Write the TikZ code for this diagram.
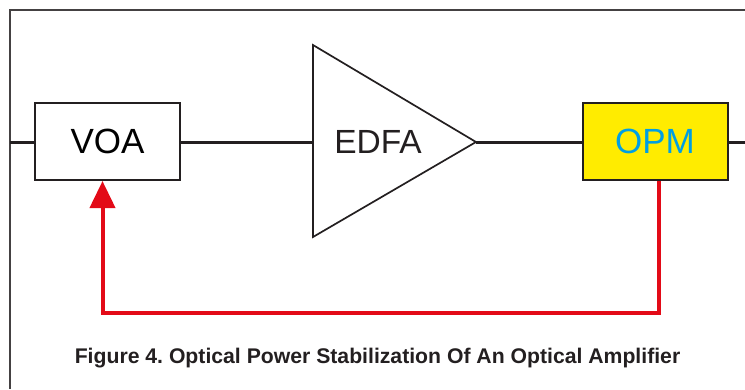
\documentclass[tikz,border=0pt]{standalone}
\usepackage{fontspec}
\setmainfont{Liberation Sans}
\usetikzlibrary{arrows.meta}
\definecolor{fbred}{HTML}{E30A17}
\definecolor{opmyellow}{HTML}{FFEC00}
\definecolor{opmblue}{HTML}{009FE3}
\definecolor{ink}{HTML}{231F20}
\frenchspacing
\begin{document}
\begin{tikzpicture}[x=1pt,y=-1pt,
  blockbox/.style={draw=ink,line width=2pt,minimum width=145pt,minimum height=77pt,inner sep=0pt,font=\fontsize{35}{40}\selectfont},
  sigline/.style={draw=ink,line width=3pt},
  fbline/.style={draw=fbred,line width=4pt,-{Triangle[length=27pt,width=25pt]}}]
\useasboundingbox (0,0) rectangle (745,389);
% frame
\draw[ink!85,line width=1.5pt] (745,10) -- (10,10) -- (10,389);
% blocks
\node[blockbox] (voa) at (107.5,141.5) {VOA};
\node[blockbox,fill=opmyellow,text=opmblue] (opm) at (655,141.5) {OPM};
\coordinate (eL) at (313,142);
\coordinate (eT) at (313,45);
\coordinate (eB) at (313,237);
\coordinate (eR) at (476,142);
\draw[ink,line width=1.7pt,line join=miter] (eT) -- (eR) -- (eB) -- cycle;
\node[text=ink,font=\fontsize{33.5}{38}\selectfont] (edfa) at (378,141.5) {EDFA};
% signal line
\coordinate (inL) at (10,142);
\coordinate (outR) at (745,142);
\draw[sigline] (inL) -- (inL -| voa.west);
\draw[sigline] (voa.east |- eL) -- (eL);
\draw[sigline] (eR) -- (eR -| opm.west);
\draw[sigline] (opm.east |- outR) -- (outR);
% feedback
\coordinate (fbS) at ([xshift=4pt]opm.south);
\coordinate (fbE) at ([xshift=-5pt]voa.south);
\draw[fbline] (fbS) -- (fbS |- 0,313) -- (fbE |- 0,313) -- (fbE);
% caption
\node[font=\bfseries\fontsize{21.2}{25}\selectfont,text=ink] (cap) at (377.5,358) {Figure 4. Optical Power Stabilization Of An Optical Amplifier};
\end{tikzpicture}
\end{document}
